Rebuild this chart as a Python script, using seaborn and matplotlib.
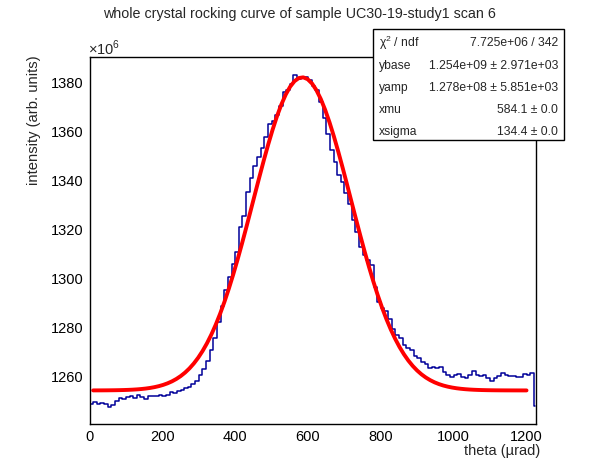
import numpy as np
import pandas as pd
import matplotlib
matplotlib.use("Agg")
import matplotlib.pyplot as plt
import seaborn as sns
from matplotlib.patches import Rectangle
from matplotlib.ticker import MultipleLocator

# --- data (intensity in units of 1e6) ---
bin_edges = list(range(0, 1221, 10)) + [1224]
intensity = [
    1249.0, 1249.6, 1248.8, 1249.4, 1248.9, 1247.6, 1248.4, 1250.2, 1251.2, 1250.8,
    1251.6, 1252.1, 1251.3, 1252.4, 1251.9, 1251.0, 1252.0, 1252.3, 1252.0, 1252.5,
    1252.1, 1252.4, 1253.6, 1253.2, 1254.0, 1254.5, 1255.2, 1256.0, 1257.2, 1258.4,
    1260.6, 1263.2, 1266.5, 1270.8, 1276.0, 1282.5, 1289.0, 1295.5, 1300.8, 1305.8,
    1311.0, 1321.0, 1325.5, 1335.5, 1341.0, 1346.0, 1349.5, 1353.5, 1358.0, 1363.0,
    1364.5, 1367.0, 1370.5, 1376.0, 1377.0, 1379.5, 1383.0, 1381.5, 1381.8, 1382.5,
    1381.0, 1378.5, 1377.0, 1372.0, 1365.5, 1359.0, 1352.5, 1347.5, 1342.4, 1339.5,
    1335.0, 1330.5, 1324.0, 1319.0, 1313.0, 1309.5, 1307.5, 1305.5, 1296.5, 1290.5,
    1288.0, 1286.8, 1283.5, 1279.5, 1277.0, 1275.8, 1273.0, 1271.8, 1270.8, 1268.5,
    1267.5, 1266.0, 1265.2, 1263.5, 1263.9, 1263.6, 1264.0, 1262.0, 1260.8, 1260.0,
    1260.6, 1261.0, 1260.0, 1259.5, 1260.5, 1262.2, 1260.6, 1260.2, 1260.9, 1259.6,
    1258.2, 1259.4, 1260.3, 1261.7, 1260.9, 1260.1, 1260.4, 1259.7, 1260.0, 1261.3,
    1260.9, 1261.6, 1248.0,
]

# fit result (gaussian + constant), from the stats box
ybase = 1254.4
yamp = 127.8
xmu = 584.1
xsigma = 134.4
fit_range = (10, 1200)

stats_labels = ["χ$^{2}$ / ndf", "ybase", "yamp", "xmu", "xsigma"]
stats_values = ["7.725e+06 / 342", "1.254e+09 ± 2.971e+03",
                "1.278e+08 ± 5.851e+03", "584.1 ± 0.0", "134.4 ± 0.0"]

centers = [(a + b) / 2 for a, b in zip(bin_edges[:-1], bin_edges[1:])]
df = pd.DataFrame({"theta": centers, "intensity": intensity})

fx = np.linspace(fit_range[0], fit_range[1], 100)
fit_df = pd.DataFrame({"theta": fx,
                       "fit": ybase + yamp * np.exp(-0.5 * ((fx - xmu) / xsigma) ** 2)})

# --- plot ---
sns.set_style("white")
plt.rcParams["font.family"] = ["Liberation Sans", "DejaVu Sans"]
plt.rcParams["mathtext.fontset"] = "custom"
plt.rcParams["mathtext.rm"] = "Liberation Sans"

fig = plt.figure(figsize=(5.96, 4.72), dpi=100)
ax = fig.add_axes([89.5 / 596, 1 - 424 / 472, (536 - 89.5) / 596, (424 - 56.7) / 472])

sns.histplot(data=df, x="theta", weights="intensity", bins=bin_edges,
             element="step", fill=False, color="#000099", linewidth=1.1, ax=ax)
sns.lineplot(data=fit_df, x="theta", y="fit", color="#ff0000", linewidth=2.8, ax=ax)

ax.set_xlim(0, 1226)
ax.set_ylim(1240.7, 1390.6)
ax.set_xlabel("")
ax.set_ylabel("")

ax.xaxis.set_major_locator(MultipleLocator(200))
ax.xaxis.set_minor_locator(MultipleLocator(50))
ax.yaxis.set_major_locator(MultipleLocator(20))
ax.yaxis.set_minor_locator(MultipleLocator(5))
ax.tick_params(axis="both", which="both", direction="in", top=False, right=False,
               labelsize=10.5, width=0.9, colors="black")
ax.tick_params(axis="x", which="major", length=8, pad=4)
ax.tick_params(axis="x", which="minor", length=4)
ax.tick_params(axis="y", which="major", length=10.5, pad=4)
ax.tick_params(axis="y", which="minor", length=5)
for s in ax.spines.values():
    s.set_color("black")
    s.set_linewidth(1.0)

fig.text(0.503, 1 - 14 / 472, "whole crystal rocking curve of sample UC30-19-study1 scan 6",
         ha="center", va="center", fontsize=10.3)
fig.text(540 / 596, 1 - 451.5 / 472, "theta (µrad)", ha="right", va="center", fontsize=10.5)
fig.text(34 / 596, 1 - 55 / 472, "intensity (arb. units)", rotation=90,
         ha="center", va="top", fontsize=10.6)
fig.text(88 / 596, 1 - 48 / 472, r"$\times10^{6}$", ha="left", va="center", fontsize=10.5)

# stats box
box_l, box_r, box_t, box_b = 373, 564, 29, 140
fig.patches.append(Rectangle((box_l / 596, 1 - box_b / 472), (box_r - box_l) / 596,
                             (box_b - box_t) / 472, transform=fig.transFigure,
                             facecolor="white", edgecolor="black", linewidth=1.0,
                             zorder=5))
row_y = [43.3, 66.2, 88.3, 110, 131.7]
for lab, val, yy in zip(stats_labels, stats_values, row_y):
    fig.text(379 / 596, 1 - yy / 472, lab, ha="left", va="center", fontsize=8.7, zorder=6)
    fig.text(558 / 596, 1 - yy / 472, val, ha="right", va="center", fontsize=8.7, zorder=6)

fig.savefig("out.png", dpi=100, facecolor="white")
